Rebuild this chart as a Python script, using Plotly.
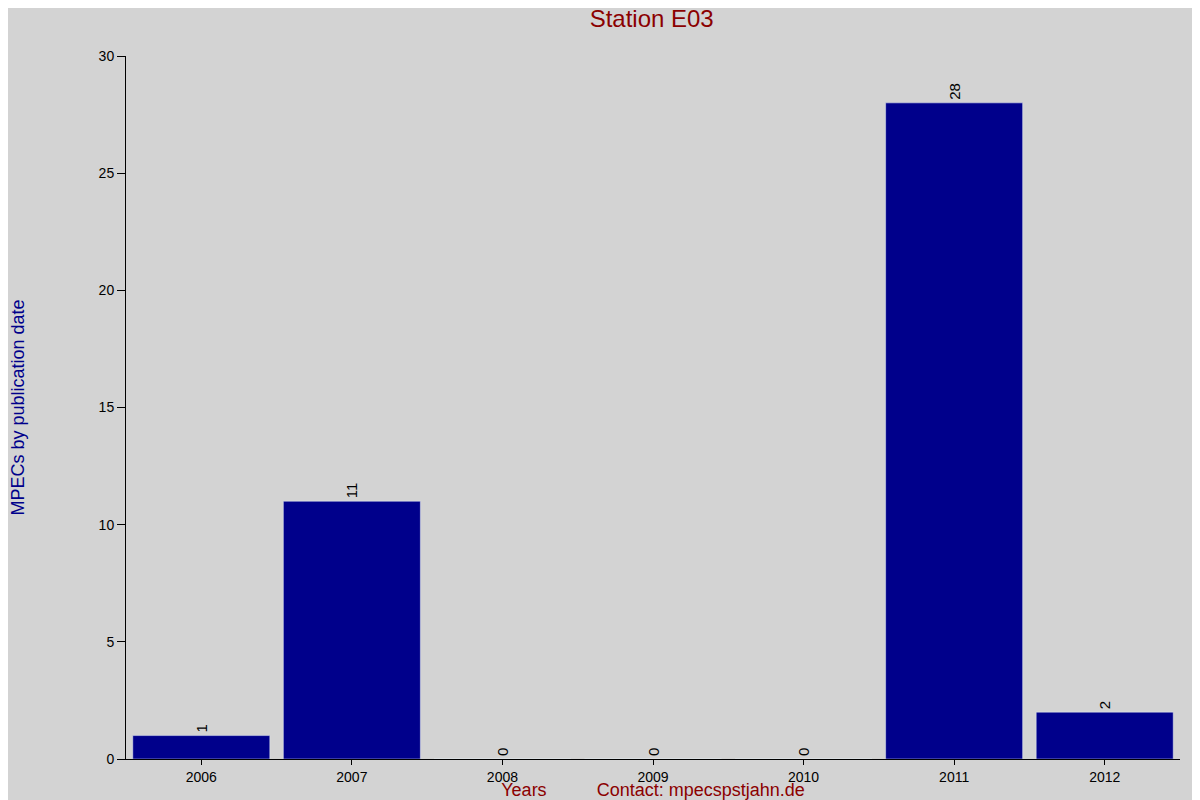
import plotly.graph_objects as go

years = ["2006", "2007", "2008", "2009", "2010", "2011", "2012"]
counts = [1, 11, 0, 0, 0, 28, 2]
y_ticks = [0, 5, 10, 15, 20, 25, 30]

fig = go.Figure(go.Bar(
    x=years, y=counts, marker_color="#00008b",
    text=[str(c) for c in counts], textposition="outside", textangle=-90,
    textfont=dict(color="black", size=15), cliponaxis=False,
))
fig.update_layout(
    width=1192, height=792,
    paper_bgcolor="#d3d3d3", plot_bgcolor="#d3d3d3",
    font=dict(family="Liberation Sans, Arial", size=14, color="black"),
    margin=dict(l=118, r=20, t=48, b=41, autoexpand=False),
    bargap=0.09,
    showlegend=False,
    title=dict(text="Station E03", x=0.54, xanchor="center", y=0.987, yanchor="middle",
               font=dict(size=24, color="#8b0000")),
)
fig.update_xaxes(
    type="category", showline=True, linecolor="black", linewidth=1, automargin=False,
    ticks="outside", ticklen=5, tickcolor="black", showgrid=False, mirror=False,
    title=dict(text="Years          Contact: mpecspstjahn.de", font=dict(size=18, color="#8b0000"), standoff=2),
)
fig.update_yaxes(
    range=[0, 30], tickvals=y_ticks, showline=True, linecolor="black", linewidth=1, automargin=False,
    ticks="outside", ticklen=8, tickcolor="black", showgrid=False, zeroline=False,
    title=dict(text="MPECs by publication date", font=dict(size=18, color="#00008b"), standoff=80),
)
fig.write_html("out.html")
